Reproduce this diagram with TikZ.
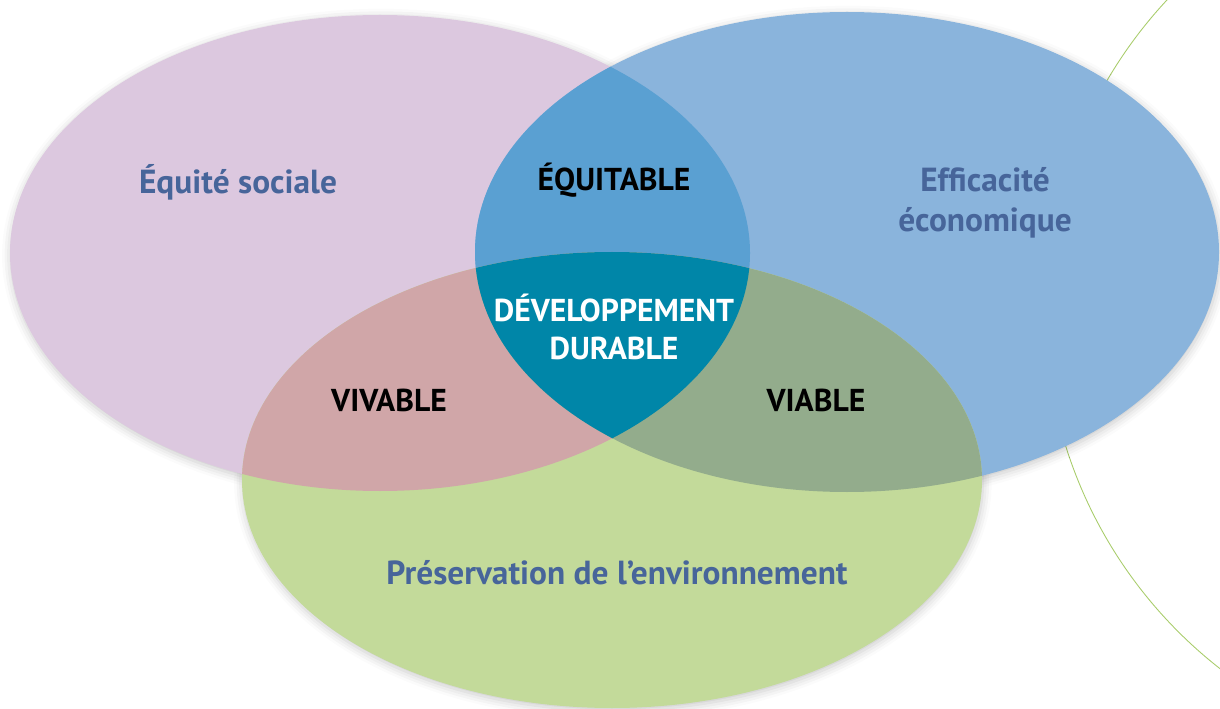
\documentclass[tikz,border=0pt]{standalone}
\usepackage{fontspec}
\setmainfont{PT Sans}
\usetikzlibrary{shadows.blur}
\definecolor{socialpink}{HTML}{DCC8DF}
\definecolor{ecoblue}{HTML}{8AB4DC}
\definecolor{envgreen}{HTML}{C3DA9A}
\definecolor{equitfill}{HTML}{5AA0D2}
\definecolor{vivfill}{HTML}{D0A6A8}
\definecolor{viafill}{HTML}{93AC8C}
\definecolor{durfill}{HTML}{0086A8}
\definecolor{titleblue}{HTML}{47659A}
\definecolor{arcgreen}{HTML}{A8CC6A}

\begin{document}
\begin{tikzpicture}
    [x=0.02cm, y=-0.02cm,
    social/.style={insert path={(380,253) ellipse [x radius=370, y radius=238]}},
    economy/.style={insert path={(847,252) ellipse [x radius=372, y radius=240]}},
    nature/.style={insert path={(612,480) ellipse [x radius=370, y radius=228]}},
    soft/.style={blur shadow={shadow xshift=0.5pt, shadow yshift=-1.5pt, shadow blur radius=5pt, shadow opacity=22}},
    title/.style={font=\bfseries\fontsize{19}{23}\selectfont, text=titleblue, align=center},
    zone/.style={font=\bfseries\fontsize{18}{21.5}\selectfont, align=center}]
\useasboundingbox (0,0) rectangle (1220,709);
% thin arc behind the blue set
\begin{scope}
\clip (0,0) rectangle (1220,709);
\draw[arcgreen, line width=0.5pt] (1500,310) circle [radius=455];
\end{scope}
% shadows first, then the three sets
\path[soft, social];
\path[soft, economy];
\path[soft, nature];
\fill[socialpink, social];
\fill[ecoblue, economy];
\fill[envgreen, nature];
% overlaps
\begin{scope}
\clip[social];
\fill[equitfill, economy];
\fill[vivfill, nature];
\end{scope}
\begin{scope}
\clip[economy];
\fill[viafill, nature];
\end{scope}
\begin{scope}
\clip[social];
\clip[economy];
\fill[durfill, nature];
\end{scope}
% labels
\node[title] (social) at (238,182) {Équité sociale};
\node[title] (economy) at (985,203) {Efficacité\\économique};
\node[title] (nature) at (617,573) {Préservation de l’environnement};
\node[zone] (equit) at (614,180) {ÉQUITABLE};
\node[zone] (vivable) at (389,400) {VIVABLE};
\node[zone] (viable) at (816,400) {VIABLE};
\node[zone, text=white] (durable) at (614,327) {DÉVELOPPEMENT\\DURABLE};
\end{tikzpicture}
\end{document}
